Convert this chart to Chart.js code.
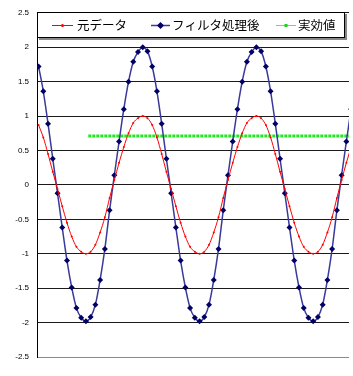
<!DOCTYPE html>
<html>
<head>
<meta charset="utf-8">
<script src="https://cdn.jsdelivr.net/npm/chart.js@4/dist/chart.umd.min.js"></script>
<style>
  html, body { margin: 0; padding: 0; background: #fff; }
  #wrap { width: 353px; height: 376px; }
</style>
</head>
<body>
<div id="wrap"><canvas id="chart" width="353" height="376"></canvas></div>
<script>
// series labels
const seriesNames = ['元データ', 'フィルタ処理後', '実効値'];

// filtered signal, one value per sample
const filtered = [
  1.72, 1.36, 0.89, 0.38, -0.12, -0.62, -1.10, -1.49, -1.79, -1.93, -1.98, -1.92,
  -1.74, -1.38, -0.93, -0.37, 0.14, 0.63, 1.10, 1.50, 1.79, 1.93, 2.00, 1.94,
  1.72, 1.36, 0.89, 0.38, -0.12, -0.62, -1.10, -1.49, -1.79, -1.93, -1.98, -1.92,
  -1.74, -1.38, -0.93, -0.37, 0.14, 0.63, 1.10, 1.50, 1.79, 1.93, 2.00, 1.94,
  1.72, 1.36, 0.89, 0.38, -0.12, -0.62, -1.10, -1.49, -1.79, -1.93, -1.98, -1.92,
  -1.74, -1.38, -0.93, -0.37, 0.14, 0.63, 1.10
];

// original signal at the same samples
const original = [
  0.87, 0.69, 0.45, 0.19, -0.06, -0.31, -0.55, -0.75, -0.90, -0.97, -1.00, -0.97,
  -0.87, -0.69, -0.47, -0.19, 0.07, 0.32, 0.55, 0.75, 0.90, 0.97, 1.00, 0.97,
  0.87, 0.69, 0.45, 0.19, -0.06, -0.31, -0.55, -0.75, -0.90, -0.97, -1.00, -0.97,
  -0.87, -0.69, -0.47, -0.19, 0.07, 0.32, 0.55, 0.75, 0.90, 0.97, 1.00, 0.97,
  0.87, 0.69, 0.45, 0.19, -0.06, -0.31, -0.55, -0.75, -0.90, -0.97, -1.00, -0.97,
  -0.87, -0.69, -0.47, -0.19, 0.07, 0.32, 0.55
];

// effective (rms) value line
const rmsX = [10.5, 66];
const rmsY = [0.71, 0.71];

// y axis ticks
const yTicks = [-2.5, -2, -1.5, -1, -0.5, 0, 0.5, 1, 1.5, 2, 2.5];

const toXY = arr => arr.map((v, i) => ({ x: i, y: v }));

// legend drawn inside the plot, like the original
const legendBox = {
  id: 'legendBox',
  afterDraw(chart) {
    const c = chart.ctx;
    c.save();
    c.fillStyle = '#888';
    c.fillRect(39, 14, 308, 26);
    c.fillStyle = '#fff';
    c.fillRect(37, 12, 308, 26);
    c.strokeStyle = '#000';
    c.lineWidth = 1;
    c.strokeRect(37.5, 12.5, 307, 25);

    const items = [
      { x0: 52, x1: 73, tx: 77 },
      { x0: 151, x1: 170, tx: 172 },
      { x0: 276, x1: 296, tx: 298 }
    ];
    const cy = 25.5;
    items.forEach((it, i) => {
      const ds = chart.data.datasets[i];
      c.strokeStyle = i === 2 ? '#66e066' : ds.borderColor;
      c.lineWidth = i === 1 ? 1.5 : 1;
      c.setLineDash([]);
      c.beginPath();
      c.moveTo(it.x0, cy);
      c.lineTo(it.x1, cy);
      c.stroke();
      const mx = (it.x0 + it.x1) / 2;
      c.fillStyle = ds.pointBackgroundColor;
      if (i === 0) {
        c.beginPath(); c.arc(mx, cy, 1.5, 0, Math.PI * 2); c.fill();
      } else if (i === 1) {
        c.beginPath();
        c.moveTo(mx, cy - 3.5); c.lineTo(mx + 3.5, cy);
        c.lineTo(mx, cy + 3.5); c.lineTo(mx - 3.5, cy);
        c.closePath(); c.fill();
      } else {
        c.fillStyle = '#22cc22';
        c.fillRect(mx - 1.5, cy - 1.5, 3, 3);
      }
      c.fillStyle = '#000';
      c.font = '12.5px "Noto Sans CJK JP"';
      c.textBaseline = 'middle';
      c.textAlign = 'left';
      c.fillText(ds.label, it.tx, cy);
    });
    c.restore();
  }
};

const ctx = document.getElementById('chart').getContext('2d');
const chart = new Chart(ctx, {
  type: 'line',
  data: {
    datasets: [
      {
        label: seriesNames[0],
        data: toXY(original),
        borderColor: '#ff0000',
        borderWidth: 1,
        pointRadius: 1,
        pointBackgroundColor: '#ff0000',
        pointBorderWidth: 0,
        cubicInterpolationMode: 'monotone'
      },
      {
        label: seriesNames[1],
        data: toXY(filtered),
        borderColor: '#3a3a9a',
        borderWidth: 1.5,
        pointStyle: 'rectRot',
        pointRadius: 3,
        pointBackgroundColor: '#000066',
        pointBorderColor: '#000066',
        pointBorderWidth: 0,
        cubicInterpolationMode: 'monotone'
      },
      {
        label: seriesNames[2],
        data: rmsX.map((x, i) => ({ x: x, y: rmsY[i] })),
        borderColor: '#22e822',
        borderWidth: 3,
        borderDash: [3, 1],
        pointRadius: 0,
        pointBackgroundColor: '#22e822'
      }
    ]
  },
  options: {
    responsive: false,
    animation: false,
    layout: { padding: { top: 11, bottom: 19, left: 0, right: 0 } },
    plugins: {
      legend: { display: false },
      tooltip: { enabled: false }
    },
    scales: {
      x: {
        type: 'linear',
        display: false,
        min: -0.33,
        max: 65.56
      },
      y: {
        min: yTicks[0],
        max: yTicks[yTicks.length - 1],
        afterFit: s => { s.width = 37; },
        afterBuildTicks: s => { s.ticks = yTicks.map(v => ({ value: v })); },
        border: { display: true, color: '#000', width: 1 },
        grid: {
          drawTicks: false,
          color: c => (c.tick && c.tick.value === -2.5 ? '#8a8a8a' : '#1a1a1a'),
          lineWidth: 1
        },
        ticks: {
          padding: 8,
          color: '#000',
          font: { family: 'Liberation Sans', size: 8 },
          callback: v => String(v)
        }
      }
    }
  },
  plugins: [legendBox]
});
</script>
</body>
</html>
